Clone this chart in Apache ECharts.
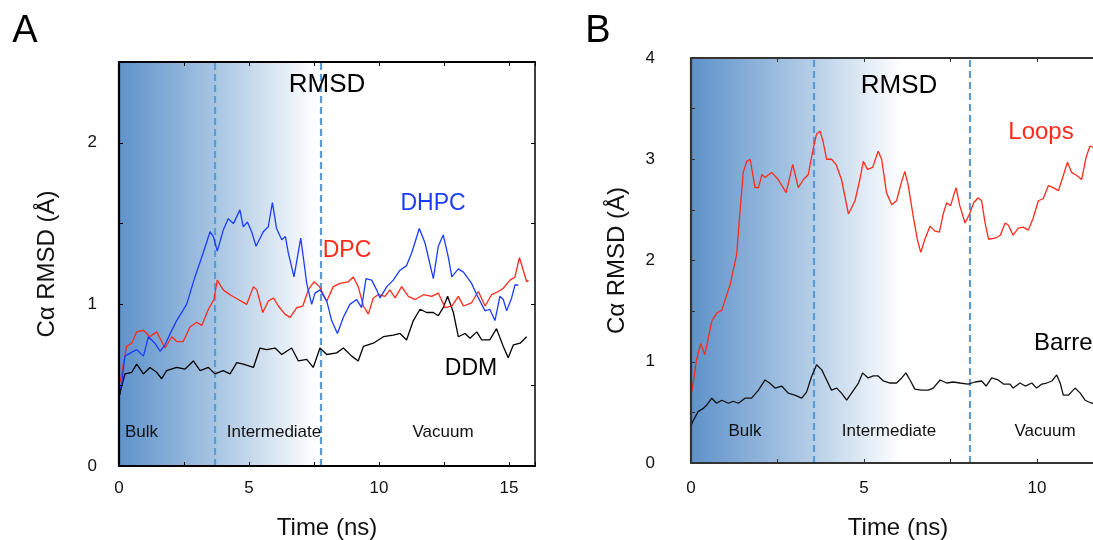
<!DOCTYPE html>
<html>
<head>
<meta charset="utf-8">
<script src="https://cdn.jsdelivr.net/npm/echarts@6/dist/echarts.min.js"></script>
<style>
html,body{margin:0;padding:0;background:#fff;}
#c{width:1093px;height:540px;}
</style>
</head>
<body>
<div id="c"></div>
<script>
// ---------- Panel A data (time ns, RMSD Å) ----------
const dhpcA = [[0.05,0.48],[0.1,0.51],[0.23,0.68],[0.45,0.70],[0.68,0.72],[0.94,0.68],[1.13,0.80],[1.38,0.76],[1.58,0.71],[1.77,0.75],[2.0,0.83],[2.22,0.90],[2.6,1.0],[2.92,1.17],[3.24,1.32],[3.5,1.45],[3.63,1.42],[3.78,1.33],[4.01,1.46],[4.2,1.53],[4.4,1.50],[4.65,1.585],[4.78,1.48],[4.94,1.51],[5.1,1.45],[5.27,1.36],[5.55,1.45],[5.74,1.48],[5.9,1.63],[6.06,1.47],[6.26,1.40],[6.4,1.42],[6.51,1.32],[6.73,1.17],[6.86,1.29],[6.99,1.41],[7.09,1.29],[7.22,1.13],[7.41,1.0],[7.54,1.07],[7.73,1.09],[7.99,1.02],[8.18,0.90],[8.4,0.82],[8.63,0.92],[8.88,1.0],[9.14,1.03],[9.33,0.98],[9.5,1.16],[9.72,1.15],[9.91,1.09],[10.04,1.04],[10.3,1.11],[10.55,1.15],[10.8,1.21],[11.06,1.24],[11.26,1.32],[11.55,1.47],[11.77,1.38],[12.09,1.16],[12.28,1.36],[12.47,1.43],[12.67,1.29],[12.8,1.17],[13.05,1.22],[13.25,1.20],[13.56,1.13],[13.76,1.06],[14.08,0.96],[14.26,0.97],[14.46,0.90],[14.65,1.05],[14.78,1.03],[14.91,0.96],[15.1,1.04],[15.23,1.12],[15.36,1.12]];
const dpcA = [[0.05,0.52],[0.1,0.57],[0.29,0.74],[0.49,0.76],[0.68,0.83],[0.94,0.84],[1.19,0.80],[1.45,0.83],[1.77,0.73],[2.03,0.80],[2.22,0.77],[2.47,0.77],[2.73,0.86],[2.99,0.89],[3.18,0.87],[3.44,0.97],[3.65,1.03],[3.78,1.15],[4.01,1.09],[4.27,1.06],[4.59,1.03],[4.91,1.0],[5.17,1.11],[5.3,1.09],[5.53,0.95],[5.74,1.02],[5.94,1.04],[6.13,0.99],[6.38,0.94],[6.58,0.92],[6.84,0.98],[7.07,0.99],[7.28,1.09],[7.5,1.14],[7.71,1.11],[7.99,1.02],[8.24,1.11],[8.5,1.13],[8.82,1.14],[9.01,1.17],[9.2,1.11],[9.4,0.99],[9.59,0.94],[9.78,1.04],[9.97,1.06],[10.23,1.05],[10.42,1.09],[10.62,1.04],[10.87,1.11],[11.13,1.05],[11.39,1.03],[11.71,1.06],[12.03,1.05],[12.28,1.07],[12.54,0.98],[12.8,0.99],[13.05,1.05],[13.25,0.99],[13.56,1.01],[13.82,1.08],[14.08,0.99],[14.33,1.06],[14.59,1.08],[14.78,1.10],[15.04,1.15],[15.23,1.17],[15.4,1.29],[15.55,1.21],[15.68,1.14],[15.75,1.15]];
const ddmA = [[0.03,0.44],[0.06,0.47],[0.23,0.57],[0.49,0.58],[0.68,0.63],[0.94,0.57],[1.19,0.61],[1.45,0.58],[1.64,0.54],[1.83,0.59],[2.22,0.61],[2.54,0.60],[2.86,0.65],[3.12,0.59],[3.44,0.61],[3.69,0.57],[4.01,0.59],[4.27,0.57],[4.53,0.64],[4.78,0.63],[5.17,0.61],[5.42,0.73],[5.68,0.72],[6.0,0.73],[6.26,0.69],[6.64,0.73],[6.9,0.65],[7.22,0.66],[7.47,0.61],[7.73,0.73],[7.99,0.69],[8.37,0.70],[8.63,0.73],[8.95,0.68],[9.2,0.65],[9.4,0.74],[9.78,0.76],[10.17,0.80],[10.55,0.81],[10.81,0.82],[11.06,0.78],[11.32,0.90],[11.58,0.97],[11.83,0.95],[12.09,0.95],[12.28,0.93],[12.47,0.98],[12.64,1.05],[12.86,0.95],[13.05,0.80],[13.31,0.82],[13.5,0.79],[13.76,0.83],[13.95,0.78],[14.26,0.78],[14.52,0.85],[14.78,0.74],[14.97,0.67],[15.17,0.75],[15.43,0.76],[15.68,0.80]];

// ---------- Panel B data ----------
const loopsB = [[0.02,0.70],[0.05,0.76],[0.16,1.02],[0.28,1.18],[0.40,1.07],[0.6,1.40],[0.74,1.48],[0.89,1.51],[1.13,1.76],[1.32,2.06],[1.42,2.50],[1.51,2.87],[1.61,2.98],[1.71,3.0],[1.85,2.72],[1.95,2.72],[2.05,2.85],[2.14,2.82],[2.33,2.87],[2.52,2.80],[2.75,2.67],[2.94,2.95],[3.1,2.72],[3.25,2.80],[3.39,2.85],[3.53,3.10],[3.63,3.25],[3.73,3.28],[3.82,3.17],[3.92,3.0],[4.06,3.0],[4.19,2.95],[4.35,2.80],[4.55,2.46],[4.74,2.59],[4.88,2.80],[4.98,2.98],[5.1,2.90],[5.25,2.92],[5.41,3.08],[5.51,3.0],[5.65,2.67],[5.8,2.55],[5.94,2.59],[6.08,2.77],[6.18,2.88],[6.28,2.74],[6.42,2.44],[6.54,2.21],[6.64,2.08],[6.76,2.21],[6.91,2.34],[7.05,2.29],[7.18,2.28],[7.29,2.46],[7.39,2.57],[7.5,2.54],[7.66,2.72],[7.77,2.54],[7.92,2.37],[8.05,2.46],[8.17,2.57],[8.3,2.62],[8.4,2.59],[8.5,2.37],[8.6,2.21],[8.79,2.22],[8.94,2.25],[9.08,2.37],[9.17,2.35],[9.31,2.25],[9.46,2.32],[9.6,2.33],[9.75,2.30],[9.89,2.42],[10.04,2.59],[10.18,2.61],[10.33,2.74],[10.47,2.72],[10.62,2.69],[10.76,2.84],[10.88,2.97],[11.0,2.87],[11.15,2.84],[11.29,2.80],[11.42,3.02],[11.53,3.13],[11.62,3.12],[11.8,3.05]];
const barrelB = [[0.02,0.38],[0.05,0.41],[0.21,0.51],[0.36,0.54],[0.45,0.57],[0.6,0.64],[0.74,0.59],[0.89,0.62],[1.08,0.59],[1.22,0.61],[1.37,0.59],[1.56,0.64],[1.75,0.64],[1.95,0.72],[2.14,0.82],[2.27,0.79],[2.43,0.74],[2.62,0.76],[2.81,0.69],[3.0,0.67],[3.2,0.64],[3.34,0.70],[3.48,0.85],[3.63,0.97],[3.78,0.92],[3.92,0.82],[4.06,0.72],[4.21,0.74],[4.35,0.69],[4.5,0.62],[4.64,0.69],[4.84,0.79],[4.96,0.89],[5.12,0.84],[5.27,0.86],[5.41,0.86],[5.56,0.81],[5.75,0.79],[5.94,0.79],[6.09,0.84],[6.21,0.89],[6.33,0.82],[6.47,0.73],[6.66,0.72],[6.86,0.72],[7.0,0.74],[7.2,0.82],[7.39,0.79],[7.58,0.80],[7.77,0.79],[8.01,0.78],[8.21,0.80],[8.4,0.81],[8.53,0.76],[8.69,0.84],[8.88,0.82],[9.03,0.78],[9.22,0.78],[9.31,0.74],[9.51,0.79],[9.66,0.76],[9.85,0.79],[9.99,0.74],[10.14,0.78],[10.28,0.79],[10.43,0.81],[10.57,0.87],[10.67,0.79],[10.76,0.67],[10.91,0.67],[11.1,0.74],[11.25,0.69],[11.39,0.62],[11.58,0.59],[11.8,0.60]];

// region boundaries (ns) and tick labels
const boundsA = [3.7, 7.75];
const boundsB = [3.55, 8.05];
const regionNames = ['Bulk', 'Intermediate', 'Vacuum'];
const xTickLabels = [0, 5, 10, 15];
const yTickLabelsA = [0, 1, 2];
const yTickLabelsB = [0, 1, 2, 3, 4];

const FONT = 'Liberation Sans, Arial, Helvetica, sans-serif';
const chart = echarts.init(document.getElementById('c'), null, {renderer: 'canvas'});

function xAxisCfg(grid, bottom, labelMargin, name, nameGap, lineColor) {
  return {
    type: 'value', gridIndex: grid, min: 0, max: 16, interval: 2.5, z: 10,
    position: bottom ? 'bottom' : 'top',
    name: name, nameLocation: 'middle', nameGap: nameGap,
    nameTextStyle: {fontSize: 24, color: '#111', fontFamily: FONT},
    axisLine: {show: true, onZero: false, lineStyle: {color: lineColor, width: bottom ? 2.2 : 2}},
    axisTick: {show: true, inside: true, length: 4, lineStyle: {color: lineColor, width: 1}},
    axisLabel: {show: bottom, margin: labelMargin, fontSize: 17, color: '#111', fontFamily: FONT,
      formatter: v => xTickLabels.indexOf(v) >= 0 ? String(v) : ''},
    splitLine: {show: false}
  };
}
function yAxisCfg(grid, left, max, labels, labelMargin, nameGap, lineColor) {
  return {
    type: 'value', gridIndex: grid, min: 0, max: max, interval: 0.5, z: 10,
    position: left ? 'left' : 'right',
    name: left ? 'Cα RMSD (Å)' : '', nameLocation: 'middle', nameGap: nameGap, nameRotate: 90,
    nameTextStyle: {fontSize: 24, color: '#111', fontFamily: FONT},
    axisLine: {show: true, onZero: false, lineStyle: {color: lineColor, width: left ? 2.2 : 1.5}},
    axisTick: {show: true, inside: true, length: 4, lineStyle: {color: lineColor, width: 1}},
    axisLabel: {show: left, margin: labelMargin, fontSize: 17, color: '#111', fontFamily: FONT,
      formatter: v => labels.indexOf(v) >= 0 ? String(v) : ''},
    splitLine: {show: false}
  };
}

function bgArea(xIdx, yIdx, endX, yMax) {
  return {
    type: 'line', xAxisIndex: xIdx, yAxisIndex: yIdx, data: [], silent: true, z: 0,
    markArea: {
      silent: true,
      itemStyle: {
        color: new echarts.graphic.LinearGradient(0, 0, 1, 0, [
          {offset: 0, color: '#5e92ca'},
          {offset: 0.5, color: '#a9c6e3'},
          {offset: 1, color: '#ffffff'}
        ])
      },
      data: [[{xAxis: 0, yAxis: 0}, {xAxis: endX, yAxis: yMax}]]
    }
  };
}
function dashLines(xIdx, yIdx, bounds) {
  return {
    type: 'line', xAxisIndex: xIdx, yAxisIndex: yIdx, data: [], silent: true, z: 3,
    markLine: {
      silent: true, symbol: 'none', label: {show: false},
      lineStyle: {color: '#5b9bd5', type: [7, 4], width: 2.2},
      data: bounds.map(b => ({xAxis: b}))
    }
  };
}
function lineSeries(xIdx, yIdx, data, color) {
  return {
    type: 'line', xAxisIndex: xIdx, yAxisIndex: yIdx, data: data, showSymbol: false,
    lineStyle: {color: color, width: 1.3}, itemStyle: {color: color}, z: 5, silent: true
  };
}

function txt(x, y, text, size, color, align) {
  return {
    type: 'text', x: x, y: y, z: 100, silent: true,
    style: {text: text, fontSize: size, fill: color, fontFamily: FONT,
      align: align || 'center', verticalAlign: 'middle'}
  };
}

const option = {
  animation: false,
  backgroundColor: '#ffffff',
  grid: [
    {left: 119, top: 62, width: 416, height: 404, show: false, outerBoundsMode: 'none', containLabel: false},
    {left: 691, top: 58, width: 553.6, height: 405, show: false, outerBoundsMode: 'none', containLabel: false}
  ],
  xAxis: [
    xAxisCfg(0, true, 14, 'Time (ns)', 50, '#000'),
    xAxisCfg(0, false, 14, '', 0, '#000'),
    xAxisCfg(1, true, 17, '', 0, '#333'),
    xAxisCfg(1, false, 17, '', 0, '#333')
  ],
  yAxis: [
    yAxisCfg(0, true, 2.5, yTickLabelsA, 22, 60, '#000'),
    yAxisCfg(0, false, 2.5, yTickLabelsA, 22, 0, '#000'),
    yAxisCfg(1, true, 4, yTickLabelsB, 36, 62, '#333'),
    yAxisCfg(1, false, 4, yTickLabelsB, 36, 0, '#333')
  ],
  series: [
    bgArea(0, 0, 7.6, 2.5),
    bgArea(2, 2, 6.1, 4),
    dashLines(0, 0, boundsA),
    dashLines(2, 2, boundsB),
    lineSeries(0, 0, ddmA, '#000000'),
    lineSeries(0, 0, dpcA, '#ff2a1a'),
    lineSeries(0, 0, dhpcA, '#1a3cff'),
    lineSeries(2, 2, barrelB, '#111111'),
    lineSeries(2, 2, loopsB, '#ff2a1a')
  ],
  graphic: [
    txt(25, 32, 'A', 38, '#000'),
    txt(598, 32, 'B', 38, '#000'),
    txt(327, 85, 'RMSD', 26, '#000'),
    txt(899, 86, 'RMSD', 26, '#000'),
    txt(898, 528, 'Time (ns)', 24, '#111'),
    txt(433, 204, 'DHPC', 23, '#1a3cff'),
    txt(347, 251, 'DPC', 23, '#ff2a1a'),
    txt(471, 369, 'DDM', 23, '#000'),
    txt(1041, 132, 'Loops', 24, '#ff2a1a'),
    txt(1034, 343, 'Barrel', 24, '#000', 'left'),
    txt(125, 432, regionNames[0], 17, '#111', 'left'),
    txt(274, 432, regionNames[1], 17, '#111'),
    txt(443, 432, regionNames[2], 17, '#111'),
    txt(745, 431, regionNames[0], 17, '#111'),
    txt(889, 431, regionNames[1], 17, '#111'),
    txt(1045, 431, regionNames[2], 17, '#111')
  ]
};
chart.setOption(option);
</script>
</body>
</html>
